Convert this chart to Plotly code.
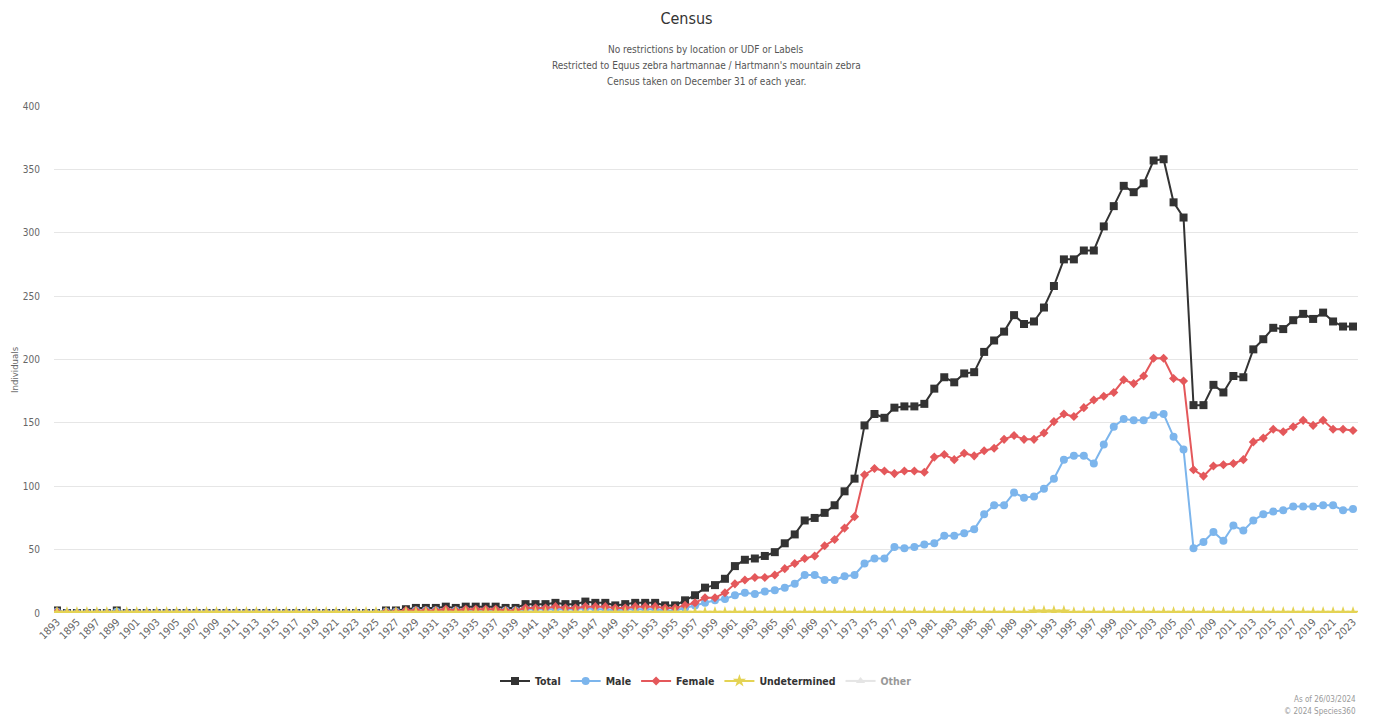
import plotly.graph_objects as go

years = list(range(1893, 2024))

# Values by year (1893..2023)
total_early = {1893: 2, 1899: 2}
total_1926 = [2, 2, 3, 4, 4, 4, 5, 4, 5, 5, 5, 5, 4, 4,          # 1926-1939
              7, 7, 7, 8, 7, 7, 9, 8, 8, 6, 7, 8, 8, 8, 6, 6,    # 1940-1955
              10, 14, 20, 22, 27, 37, 42, 43, 45, 48, 55, 62, 73, 75, 79, 85, 96, 106,  # 1956-1973
              148, 157, 154, 162, 163, 163, 165, 177, 186, 182, 189, 190, 206, 215, 222, 235,  # 1974-1989
              228, 230, 241, 258, 279, 279, 286, 286, 305, 321, 337, 332, 339, 357, 358, 324, 312,  # 1990-2006
              164, 164, 180, 174, 187, 186, 208, 216, 225, 224, 231, 236, 232, 237, 230, 226, 226]  # 2007-2023
female_1926 = [1, 1, 2, 2, 2, 2, 3, 2, 3, 3, 3, 3, 2, 2,
               4, 4, 4, 5, 4, 4, 5, 5, 5, 4, 4, 5, 5, 5, 4, 4,
               6, 8, 12, 12, 16, 23, 26, 28, 28, 30, 35, 39, 43, 45, 53, 58, 67, 76,
               109, 114, 112, 110, 112, 112, 111, 123, 125, 121, 126, 124, 128, 130, 137, 140,
               137, 137, 142, 151, 157, 155, 162, 168, 171, 174, 184, 181, 187, 201, 201, 185, 183,
               113, 108, 116, 117, 118, 121, 135, 138, 145, 143, 147, 152, 148, 152, 145, 145, 144]
male_1926 = [1, 1, 1, 2, 2, 2, 2, 2, 2, 2, 2, 2, 2, 2,
             3, 3, 3, 3, 3, 3, 4, 3, 3, 2, 3, 3, 3, 3, 2, 2,
             4, 6, 8, 10, 11, 14, 16, 15, 17, 18, 20, 23, 30, 30, 26, 26, 29, 30,
             39, 43, 43, 52, 51, 52, 54, 55, 61, 61, 63, 66, 78, 85, 85, 95,
             91, 92, 98, 106, 121, 124, 124, 118, 133, 147, 153, 152, 152, 156, 157, 139, 129,
             51, 56, 64, 57, 69, 65, 73, 78, 80, 81, 84, 84, 84, 85, 85, 81, 82]
undet_nonzero = {1991: 1, 1992: 1, 1993: 1, 1994: 1}

total = [total_early.get(y, 0) for y in range(1893, 1926)] + total_1926
female = [1 if y == 1893 else 0 for y in range(1893, 1926)] + female_1926
male = [1 if y in (1893, 1899) else 0 for y in range(1893, 1926)] + male_1926
undetermined = [undet_nonzero.get(y, 0) for y in years]
other = [0 for y in years]

tick_years = list(range(1893, 2024, 2))
y_ticks = list(range(0, 401, 50))

FONT = "DejaVu Sans Condensed, DejaVu Sans, sans-serif"

fig = go.Figure()
series = [
    ("Other", other, "#cccccc", "triangle-up", 8, "legendonly", 5),
    ("Total", total, "#333333", "square", 8, True, 1),
    ("Male", male, "#7cb5ec", "circle", 8, True, 2),
    ("Female", female, "#e4585b", "diamond", 7, True, 3),
    ("Undetermined", undetermined, "#e4d354", "star", 10, True, 4),
]
for name, vals, col, sym, sz, vis, rank in series:
    fig.add_trace(go.Scatter(
        x=years, y=vals, name=name, mode="lines+markers",
        line=dict(color=col, width=2),
        marker=dict(symbol=sym, size=sz, color=col),
        visible=vis, legendrank=rank,
    ))

fig.update_layout(
    width=1373, height=718,
    margin=dict(l=54, r=15, t=106, b=105),
    paper_bgcolor="white", plot_bgcolor="white",
    font=dict(family=FONT, size=10, color="#666666"),
    title=dict(text="Census", x=0.5, xanchor="center", y=1 - 18 / 718, yanchor="middle",
               font=dict(family=FONT, size=16, color="#333333")),
    showlegend=True,
    legend=dict(orientation="h", x=0.5, xanchor="center", y=-0.134, yanchor="middle",
                font=dict(family=FONT, size=10.5, color="#333333", weight="bold"),
                traceorder="normal", itemwidth=30),
    xaxis=dict(range=[1892.7, 2023.5], tickmode="array", tickvals=tick_years,
               ticktext=[str(t) for t in tick_years], tickangle=-45,
               showgrid=False, zeroline=False, showline=False, ticks="",
               tickfont=dict(family=FONT, size=10.5, color="#666666")),
    yaxis=dict(range=[0, 400], tickmode="array", tickvals=y_ticks,
               showgrid=True, gridcolor="#e6e6e6", gridwidth=1, zeroline=False,
               showline=False, ticks="", ticklabelstandoff=13,
               tickfont=dict(family=FONT, size=10, color="#666666")),
)

subs = ["No restrictions by location or UDF or Labels",
        "Restricted to Equus zebra hartmannae / Hartmann's mountain zebra",
        "Census taken on December 31 of each year."]
for txt, ypix in zip(subs, [49, 65, 82]):
    fig.add_annotation(text=txt, xref="paper", yref="paper", x=0.5, xanchor="center",
                       y=(613 - ypix) / 507, yanchor="middle", showarrow=False,
                       font=dict(family=FONT, size=10, color="#555555"))

fig.add_annotation(text="Individuals", xref="paper", yref="paper",
                   x=(14 - 54) / 1304, xanchor="center", y=(613 - 370) / 507, yanchor="middle",
                   textangle=-90, showarrow=False,
                   font=dict(family=FONT, size=9.5, color="#666666"))

for txt, ypix in zip(["As of 26/03/2024", "\u00a9 2024 Species360"], [699, 711]):
    fig.add_annotation(text=txt, xref="paper", yref="paper", x=1.0, xanchor="right",
                       y=(613 - ypix) / 507, yanchor="middle", showarrow=False,
                       font=dict(family=FONT, size=8, color="#999999"))

fig.write_html("out.html", config={"displayModeBar": False},
               post_script="document.body.style.margin='0px';")
